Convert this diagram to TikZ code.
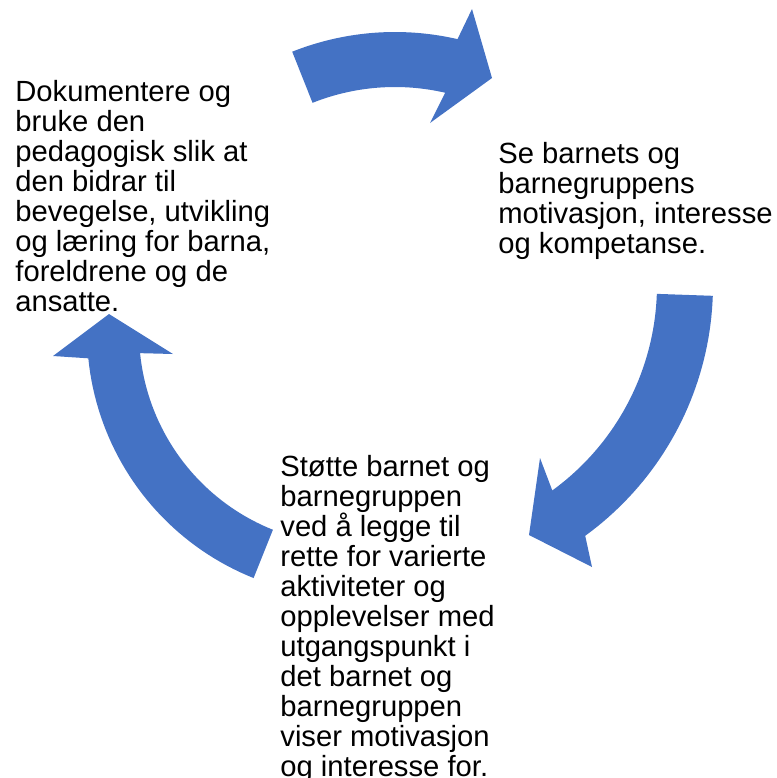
\documentclass[tikz,border=0pt]{standalone}
\usepackage{fontspec}
\setmainfont{Liberation Sans}
\usepackage{xcolor}
\usepackage{tikz}
\definecolor{CycleBlue}{HTML}{4472C4}
\tikzset{
  cycletext/.style={anchor=north west,inner sep=0pt,align=left,text=black,font=\fontsize{14.6pt}{15pt}\selectfont},
  cyclearrow/.style={fill=CycleBlue,draw=none},
  arcplot/.style={variable=\t,samples=40}
}
\begin{document}
\begin{tikzpicture}[x=0.5pt,y=-0.5pt]
  \useasboundingbox (0,0) rectangle (777,778);

  % curved block arrows (clockwise)
  \fill[cyclearrow] plot[arcplot,domain=-111.7:-77] ({395+278*cos(\t)},{310+278*sin(\t)})
    -- (472,9) -- (492,78) -- (430,123)
    -- plot[arcplot,domain=-77:-111.7] ({395+223*cos(\t)},{310+223*sin(\t)}) -- cycle;
  \fill[cyclearrow] plot[arcplot,domain=2:54] ({403+310*cos(\t)},{285+310*sin(\t)})
    -- (592,567) -- (529,535) -- (540,458)
    -- plot[arcplot,domain=54:2] ({403+254*cos(\t)},{285+254*sin(\t)}) -- cycle;
  \fill[cyclearrow] plot[arcplot,domain=111.8:174.3] ({352+265*cos(\t)},{332+265*sin(\t)})
    -- (53,356) -- (109,314) -- (173,354)
    -- plot[arcplot,domain=174.3:111.8] ({352+213*cos(\t)},{332+213*sin(\t)}) -- cycle;

  % texts
  \node[cycletext] (dokumentere) at (15,80) {Dokumentere og\\bruke den\\pedagogisk slik at\\den bidrar til\\bevegelse, utvikling\\og læring for barna,\\foreldrene og de\\ansatte.};
  \node[cycletext] (barnets) at (498,142) {Se barnets og\\barnegruppens\\motivasjon, interesse\\og kompetanse.};
  \node[cycletext] (stotte) at (280,455) {Støtte barnet og\\barnegruppen\\ved å legge til\\rette for varierte\\aktiviteter og\\opplevelser med\\utgangspunkt i\\det barnet og\\barnegruppen\\viser motivasjon\\og interesse for.};
\end{tikzpicture}
\end{document}
